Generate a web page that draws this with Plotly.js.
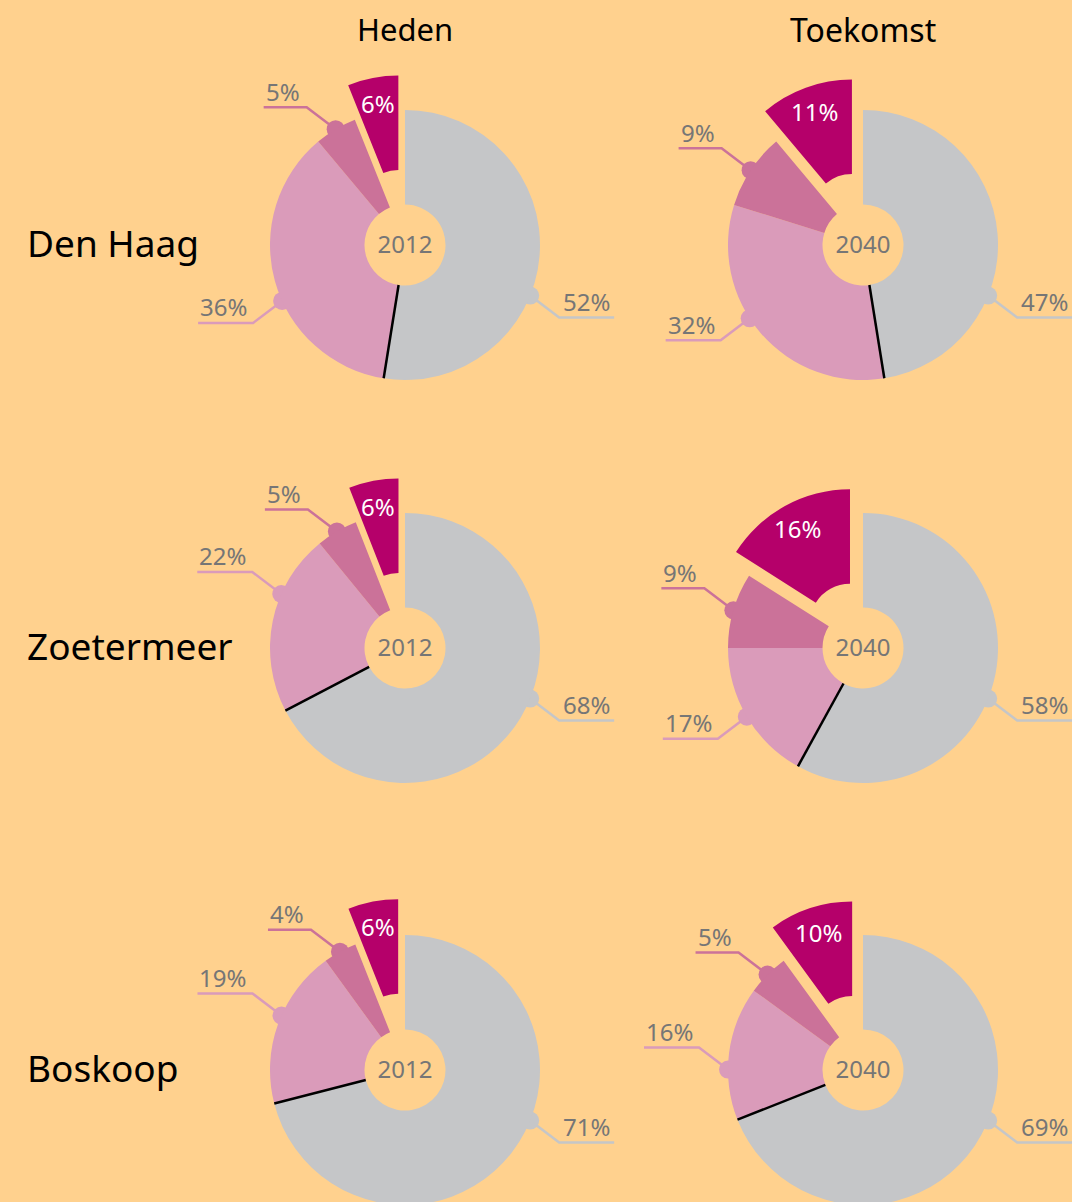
<!DOCTYPE html>
<html>
<head>
<meta charset="utf-8">
<script src="https://cdn.plot.ly/plotly-3.0.1.min.js"></script>
<style>
  html, body { margin:0; padding:0; background:#FFD18E; overflow:hidden; }
  #wrap { width:1072px; height:1202px; overflow:hidden; position:relative; }
</style>
</head>
<body>
<div id="wrap"><div id="chart"></div></div>
<script>
// ---------------- DATA ----------------
const cities = ['Den Haag', 'Zoetermeer', 'Boskoop'];
const periods = ['Heden', 'Toekomst'];
const years = ['2012', '2040'];
const categories = ['Categorie 1', 'Categorie 2', 'Categorie 3', 'Categorie 4'];
const denHaag2012 = [52, 36, 5, 6];
const denHaag2040 = [47, 32, 9, 11];
const zoetermeer2012 = [68, 22, 5, 6];
const zoetermeer2040 = [58, 17, 9, 16];
const boskoop2012 = [71, 19, 4, 6];
const boskoop2040 = [69, 16, 5, 10];

// ---------------- STYLE / LAYOUT ----------------
const W = 1072, H = 1250;
const BG = '#FFD18E';
const colors = ['#C5C6C8', '#DA9BBA', '#CB7299', '#B5006A'];
const labelColor = '#767676';
const FONT = 'Noto Sans, Open Sans, sans-serif';
const R = 135;          // outer radius in px
const HOLE = 0.3;
const colX = [405, 863];
const rowY = [245, 648, 1070];
const pulls = [[0.26, 0.24], [0.26, 0.2], [0.27, 0.26]];
const GREY_LABEL_ANGLE = 112;                       // leader anchor of first slice (deg, clockwise from 12)
const secondLabelShift = [[-9, 8], [12, 0], [4, -7]]; // leader anchor nudge for second slice (deg)
const series = [[denHaag2012, denHaag2040], [zoetermeer2012, zoetermeer2040], [boskoop2012, boskoop2040]];

const traces = [];
const annotations = [];
const shapes = [];
const lineX = [[], [], []], lineY = [[], [], []];
const dotX = [[], [], []], dotY = [[], [], []];

function pt(cx, cy, r, deg) {
  const a = deg * Math.PI / 180;
  return [cx + r * Math.sin(a), cy - r * Math.cos(a)];
}

series.forEach((row, ri) => {
  row.forEach((vals, ci) => {
    const cx = colX[ci], cy = rowY[ri];
    const p = pulls[ri][ci];
    const s = R * (1 + p);
    traces.push({
      type: 'pie',
      labels: categories,
      values: vals,
      sort: false,
      direction: 'clockwise',
      rotation: 0,
      hole: HOLE,
      pull: [0, 0, 0, p],
      textinfo: 'none',
      hoverinfo: 'skip',
      showlegend: false,
      marker: { colors: colors, line: { width: 0 } },
      title: { text: years[ci], position: 'middle center', font: { family: FONT, size: 24, color: labelColor } },
      domain: { x: [(cx - s) / W, (cx + s) / W], y: [1 - (cy + s) / H, 1 - (cy - s) / H] }
    });
    const total = vals.reduce((a, b) => a + b, 0);
    let cum = 0;
    const starts = [], mids = [], ends = [];
    vals.forEach(v => { starts.push(cum / total * 360); cum += v; ends.push(cum / total * 360); });
    starts.forEach((st, i) => mids.push((st + ends[i]) / 2));

    // black divider between first and second slice
    const b0 = pt(cx, cy, R * HOLE, ends[0]);
    const b1 = pt(cx, cy, R, ends[0]);
    shapes.push({ type: 'line', xref: 'x', yref: 'y', layer: 'above',
      x0: b0[0], y0: b0[1], x1: b1[0], y1: b1[1], line: { color: '#000000', width: 2.5 } });

    // leader lines for first three slices
    for (let i = 0; i < 3; i++) {
      const ang = i === 0 ? GREY_LABEL_ANGLE : (i === 1 ? mids[i] + secondLabelShift[ri][ci] : mids[i]);
      const d = pt(cx, cy, R, ang);
      const sx = Math.sin(ang * Math.PI / 180) >= 0 ? 1 : -1;
      const sy = -Math.cos(ang * Math.PI / 180) >= 0 ? 1 : -1;
      const bend = [d[0] + sx * 29, d[1] + sy * 22];
      const txt = vals[i] + '%';
      const hl = txt.length >= 3 ? 55 : 43;
      const end = [bend[0] + sx * hl, bend[1]];
      lineX[i].push(d[0], bend[0], end[0], null);
      lineY[i].push(d[1], bend[1], end[1], null);
      dotX[i].push(d[0]); dotY[i].push(d[1]);
      annotations.push({
        xref: 'x', yref: 'y', x: end[0] + (sx > 0 ? -2 : 0), y: end[1] - 16,
        xanchor: sx > 0 ? 'right' : 'left', yanchor: 'middle', showarrow: false,
        text: txt, font: { family: FONT, size: 24, color: labelColor }
      });
    }
    // label inside pulled slice
    const off = pt(cx, cy, p * R, mids[3]);
    const tp = pt(off[0], off[1], R * 0.81, mids[3]);
    annotations.push({
      xref: 'x', yref: 'y', x: tp[0], y: tp[1], xanchor: 'center', yanchor: 'middle', showarrow: false,
      text: vals[3] + '%', font: { family: FONT, size: 24, color: '#FFFFFF' }
    });
  });
});

const lineTraces = [0, 1, 2].map(i => ({
  type: 'scatter', mode: 'lines', x: lineX[i], y: lineY[i], hoverinfo: 'skip', showlegend: false,
  line: { color: colors[i], width: 2.5 }
}));
const dotTraces = [0, 1, 2].map(i => ({
  type: 'scatter', mode: 'markers', x: dotX[i], y: dotY[i], hoverinfo: 'skip', showlegend: false,
  marker: { color: colors[i], size: 18, line: { width: 0 } }
}));

// row and column headers
periods.forEach((t, ci) => annotations.push({
  xref: 'x', yref: 'y', x: colX[ci], y: 29, xanchor: 'center', yanchor: 'middle', showarrow: false,
  text: t, font: { family: FONT, size: ci === 0 ? 31 : 32, color: '#000000' }
}));
cities.forEach((c, ri) => annotations.push({
  xref: 'x', yref: 'y', x: 25, y: rowY[ri] - 3, xanchor: 'left', yanchor: 'middle', showarrow: false,
  text: c, font: { family: FONT, size: 37, color: '#000000' }
}));

const layout = {
  width: W, height: H,
  margin: { l: 0, r: 0, t: 0, b: 0, pad: 0 },
  paper_bgcolor: BG, plot_bgcolor: BG,
  xaxis: { range: [0, W], visible: false, fixedrange: true, domain: [0, 1] },
  yaxis: { range: [H, 0], visible: false, fixedrange: true, domain: [0, 1] },
  shapes: shapes,
  annotations: annotations,
  showlegend: false
};

Plotly.newPlot('chart', [...lineTraces, ...dotTraces, ...traces], layout, { staticPlot: true, displayModeBar: false });
</script>
</body>
</html>
